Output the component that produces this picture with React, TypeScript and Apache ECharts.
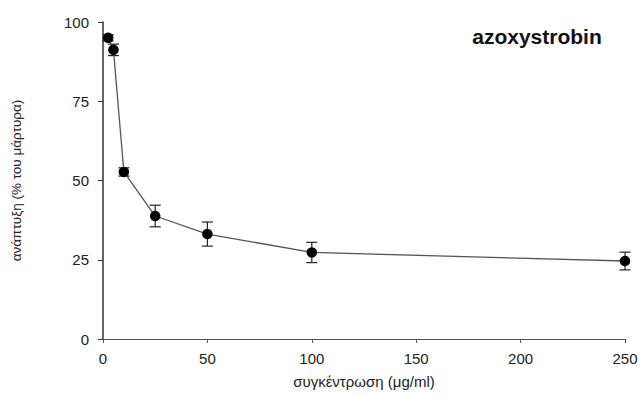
import React, { useEffect, useRef } from "react";
import * as echarts from "echarts";

const concentrations = [2.5, 5, 10, 25, 50, 100, 250];
const growth = [95.0, 91.2, 52.7, 38.8, 33.1, 27.3, 24.6];
const errors = [1.0, 1.8, 1.3, 3.4, 3.8, 3.2, 2.8];
const xTicks = [0, 50, 100, 150, 200, 250];
const yTicks = [0, 25, 50, 75, 100];
const title = "azoxystrobin";
const xName = "συγκέντρωση (μg/ml)";
const yName = "ανάπτυξη (% του μάρτυρα)";

export default function App() {
  const ref = useRef<HTMLDivElement>(null);
  useEffect(() => {
    if (!ref.current) return;
    const chart = echarts.init(ref.current, undefined, { renderer: "svg" });
    const font = "'Liberation Sans', Arial, sans-serif";
    const lineData = concentrations.map((x, i) => [x, growth[i]]);
    const errData = concentrations.map((x, i) => [x, growth[i] - errors[i], growth[i] + errors[i]]);
    chart.setOption({
      animation: false,
      backgroundColor: "#fff",
      title: {
        text: title,
        left: 532,
        top: 21,
        textAlign: "center",
        textStyle: { fontFamily: font, fontSize: 21, fontWeight: "bold", color: "#111" },
      },
      grid: { left: 103, right: 16, top: 22, bottom: 57, containLabel: false },
      xAxis: {
        type: "value",
        min: xTicks[0],
        max: xTicks[xTicks.length - 1],
        interval: 50,
        name: xName,
        nameLocation: "middle",
        nameGap: 35,
        nameTextStyle: { fontFamily: font, fontSize: 15, color: "#222" },
        axisLine: { show: true, lineStyle: { color: "#555", width: 1.2 } },
        axisTick: { show: true, length: 4, lineStyle: { color: "#555" } },
        axisLabel: { fontFamily: font, fontSize: 15, color: "#222", margin: 12 },
        splitLine: { show: false },
      },
      yAxis: {
        type: "value",
        min: yTicks[0],
        max: yTicks[yTicks.length - 1],
        interval: 25,
        name: yName,
        nameLocation: "middle",
        nameGap: 80,
        nameRotate: 90,
        nameTextStyle: { fontFamily: font, fontSize: 13.5, color: "#222" },
        axisLine: { show: true, lineStyle: { color: "#333", width: 1.5 } },
        axisTick: { show: true, length: 5, lineStyle: { color: "#333" } },
        axisLabel: { fontFamily: font, fontSize: 15, color: "#222", margin: 14 },
        splitLine: { show: false },
      },
      series: [
        {
          type: "line",
          data: lineData,
          symbol: "circle",
          symbolSize: 10.5,
          itemStyle: { color: "#000" },
          lineStyle: { color: "#555", width: 1.3 },
          z: 3,
        },
        {
          type: "custom",
          data: errData,
          z: 2,
          renderItem: (params: any, api: any) => {
            const x = api.value(0);
            const lo = api.coord([x, api.value(1)]);
            const hi = api.coord([x, api.value(2)]);
            const w = 5.5;
            const style = { stroke: "#222", lineWidth: 1.2 };
            return {
              type: "group",
              children: [
                { type: "line", shape: { x1: lo[0], y1: lo[1], x2: hi[0], y2: hi[1] }, style },
                { type: "line", shape: { x1: lo[0] - w, y1: lo[1], x2: lo[0] + w, y2: lo[1] }, style },
                { type: "line", shape: { x1: hi[0] - w, y1: hi[1], x2: hi[0] + w, y2: hi[1] }, style },
              ],
            };
          },
        },
      ],
    });
    return () => chart.dispose();
  }, []);
  return <div ref={ref} style={{ width: 641, height: 396, position: "absolute", left: 0, top: 0 }} />;
}
